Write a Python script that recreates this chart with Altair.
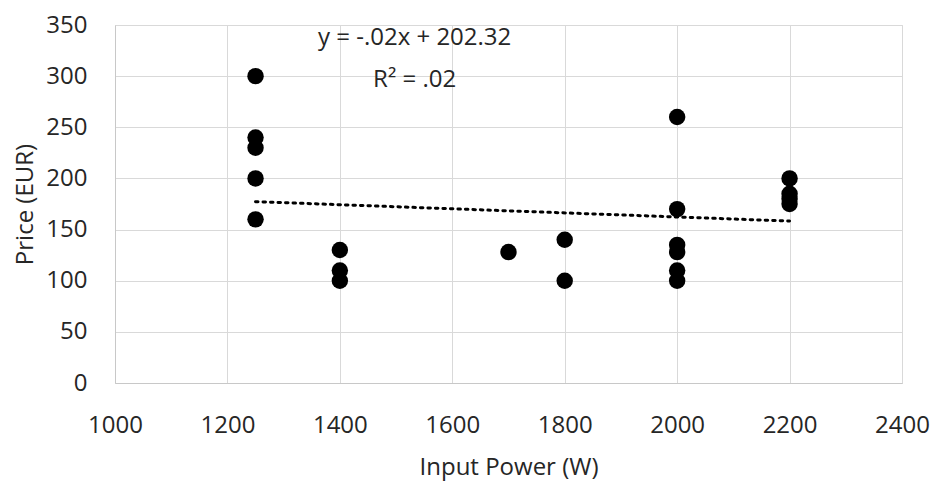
import altair as alt
import pandas as pd

# Data
power = [1250, 1250, 1250, 1250, 1250,
         1400, 1400, 1400,
         1700,
         1800, 1800,
         2000, 2000, 2000, 2000, 2000, 2000,
         2200, 2200, 2200, 2200]
price = [300, 240, 230, 200, 160,
         130, 110, 100,
         128,
         140, 100,
         260, 170, 135, 128, 110, 100,
         200, 185, 180, 175]

# Trendline coefficients as printed on the chart
slope = -0.02
intercept = 202.32
trend_x = [1250, 2200]
eq_lines = ["y = -.02x + 202.32", "R\u00b2 = .02"]
eq_pos_x = [1533, 1533]
eq_pos_y = [337, 296]

df = pd.DataFrame({"power": power, "price": price})
trend = pd.DataFrame({"power": trend_x, "price": [slope * v + intercept for v in trend_x]})
eq = pd.DataFrame({"txt": eq_lines, "x": eq_pos_x, "y": eq_pos_y})

FONT = "Open Sans"
xscale = alt.Scale(domain=[1000, 2400], nice=False)
yscale = alt.Scale(domain=[0, 350], nice=False)

xax = alt.Axis(values=list(range(1000, 2401, 200)), format="d", title="Input Power (W)",
               grid=True, gridColor="#d9d9d9", domainColor="#c8c8c8", ticks=False,
               labelFlush=False, labelOverlap=False,
               labelFont=FONT, labelFontSize=24, labelColor="#262626", labelPadding=30,
               titleFont=FONT, titleFontSize=24, titleFontWeight="normal", titleColor="#262626",
               titlePadding=18)
yax = alt.Axis(values=list(range(0, 351, 50)), format="d", title="Price (EUR)",
               grid=True, gridColor="#d9d9d9", domainColor="#c8c8c8", ticks=False,
               labelFlush=False, labelOverlap=False,
               labelFont=FONT, labelFontSize=24, labelColor="#262626", labelPadding=28,
               titleFont=FONT, titleFontSize=24, titleFontWeight="normal", titleColor="#262626",
               titlePadding=8)

pts = alt.Chart(df).mark_circle(size=270, color="black", opacity=1).encode(
    x=alt.X("power:Q", scale=xscale, axis=xax),
    y=alt.Y("price:Q", scale=yscale, axis=yax),
)

line = alt.Chart(trend).mark_line(color="black", strokeWidth=3, strokeDash=[2.5, 5], strokeCap="round").encode(
    x=alt.X("power:Q", scale=xscale),
    y=alt.Y("price:Q", scale=yscale),
)

txt = alt.Chart(eq).mark_text(font=FONT, fontSize=24, color="#262626").encode(
    x=alt.X("x:Q", scale=xscale),
    y=alt.Y("y:Q", scale=yscale),
    text="txt:N",
)

chart = alt.layer(line, pts, txt).properties(
    width=787, height=358,
    autosize=alt.AutoSizeParams(type="none"),
    padding={"left": 107, "top": 17, "right": 28, "bottom": 108},
).configure_view(stroke=None).configure(background="white")

chart.save("out.html", embed_options={"renderer": "svg", "actions": False})
